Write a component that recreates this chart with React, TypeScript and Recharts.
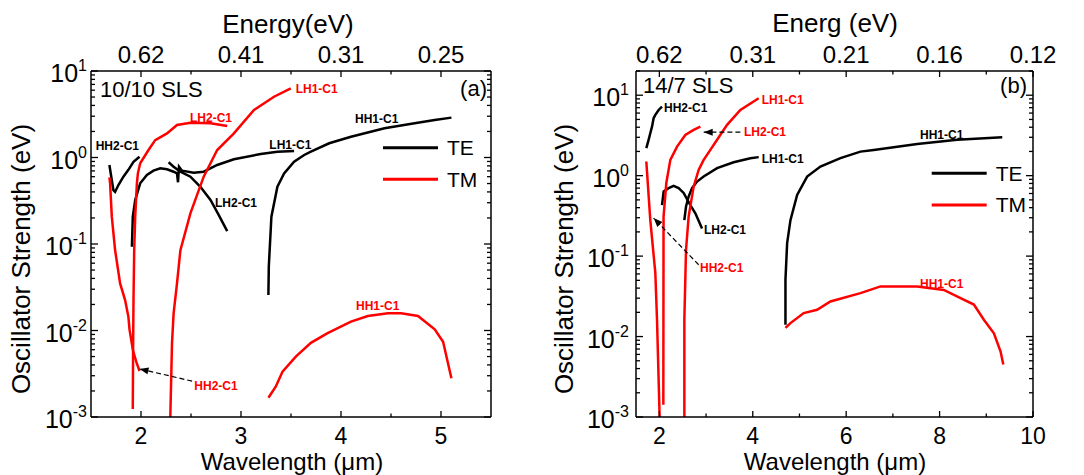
import React from 'react';
import { LineChart, Line, XAxis, YAxis, ReferenceLine, ReferenceDot } from 'recharts';

const FONT = '"Liberation Sans", Arial, sans-serif';
const RED = '#ff0000';

// ---- panel (a) 10/10 SLS : [wavelength (um), oscillator strength (eV)]
const aTeHH2 = [[1.684, 0.82], [1.724, 0.42], [1.741, 0.40], [1.774, 0.48], [1.824, 0.60], [1.874, 0.72], [1.925, 0.89], [1.985, 1.02]];
const aTeLH1 = [[1.909, 0.093], [1.918, 0.207], [1.942, 0.323], [1.992, 0.503], [2.059, 0.628], [2.125, 0.704], [2.193, 0.75], [2.26, 0.731], [2.326, 0.685], [2.36, 0.656], [2.37, 0.517], [2.38, 0.783], [2.41, 0.704], [2.527, 0.667], [2.627, 0.685], [2.762, 0.819], [2.929, 0.953], [3.197, 1.097], [3.364, 1.166], [3.531, 1.19]];
const aTeLH2 = [[2.276, 0.88], [2.326, 0.783], [2.394, 0.685], [2.494, 0.60], [2.594, 0.459], [2.695, 0.323], [2.778, 0.216], [2.862, 0.141]];
const aTeHH1 = [[3.274, 0.0257], [3.278, 0.0547], [3.304, 0.207], [3.364, 0.459], [3.431, 0.656], [3.531, 0.894], [3.632, 1.07], [3.699, 1.17], [3.882, 1.46], [4.10, 1.74], [4.435, 2.18], [4.736, 2.49], [4.937, 2.71], [5.104, 2.89]];
const aTmHH2 = [[1.684, 0.59], [1.691, 0.503], [1.708, 0.207], [1.741, 0.085], [1.791, 0.035], [1.841, 0.0225], [1.874, 0.0144], [1.885, 0.0103], [1.919, 0.00595], [1.952, 0.00436], [1.985, 0.0034]];
const aTmLH2 = [[1.918, 0.00124], [1.921, 0.006], [1.925, 0.0225], [1.932, 0.085], [1.942, 0.207], [1.959, 0.503], [1.969, 0.656], [1.992, 0.857], [2.075, 1.22], [2.142, 1.59], [2.26, 1.90], [2.36, 2.38], [2.494, 2.52], [2.695, 2.49], [2.862, 2.31]];
const aTmLH1 = [[2.293, 0.001], [2.31, 0.0071], [2.326, 0.0158], [2.36, 0.035], [2.394, 0.085], [2.494, 0.226], [2.627, 0.60], [2.762, 1.22], [2.929, 1.90], [3.13, 3.54], [3.33, 5.04], [3.498, 6.3]];
const aTmHH1 = [[3.274, 0.00167], [3.347, 0.00224], [3.415, 0.00334], [3.548, 0.00498], [3.699, 0.0072], [3.866, 0.0093], [4.10, 0.01265], [4.268, 0.0147], [4.469, 0.0158], [4.602, 0.0158], [4.77, 0.0147], [4.937, 0.0103], [5.021, 0.0074], [5.104, 0.0028]];

// ---- panel (b) 14/7 SLS
const bTeHH2 = [[1.721, 2.2], [1.77, 2.79], [1.806, 3.37], [1.843, 4.07], [1.877, 5.18], [1.914, 5.7], [1.985, 6.56], [2.057, 7.2]];
const bTeLH2 = [[2.057, 0.43], [2.092, 0.635], [2.199, 0.70], [2.306, 0.747], [2.413, 0.70], [2.52, 0.61], [2.663, 0.43], [2.771, 0.34], [2.914, 0.22]];
const bTeLH1 = [[2.535, 0.28], [2.571, 0.413], [2.627, 0.55], [2.70, 0.70], [2.807, 0.845], [2.949, 0.975], [3.236, 1.24], [3.591, 1.47], [3.949, 1.65], [4.127, 1.70]];
const bTeHH1 = [[4.70, 0.014], [4.70, 0.051], [4.736, 0.145], [4.807, 0.28], [4.95, 0.577], [5.164, 0.975], [5.449, 1.30], [5.877, 1.65], [6.306, 1.99], [6.591, 2.09], [7.521, 2.48], [8.378, 2.79], [9.342, 3.01]];
const bTmHH2 = [[1.721, 1.50], [1.806, 0.28], [1.914, 0.0615], [1.95, 0.0162], [2.006, 0.001]];
const bTmLH2 = [[2.085, 0.00142], [2.09, 0.31], [2.149, 0.81], [2.235, 1.57], [2.379, 2.30], [2.556, 3.21], [2.734, 3.71], [2.878, 4.07]];
const bTmLH1 = [[2.535, 0.001], [2.535, 0.0162], [2.571, 0.12], [2.627, 0.31], [2.734, 0.73], [2.841, 1.18], [2.949, 1.57], [3.092, 2.09], [3.236, 2.79], [3.45, 4.28], [3.735, 6.56], [4.127, 9.18]];
const bTmHH1 = [[4.70, 0.0128], [4.807, 0.0147], [5.091, 0.0196], [5.378, 0.0215], [5.663, 0.0273], [6.306, 0.0347], [6.735, 0.042], [7.521, 0.042], [8.091, 0.038], [8.449, 0.030], [8.734, 0.025], [8.948, 0.0162], [9.163, 0.011], [9.306, 0.0065], [9.364, 0.0045]];

// axis ticks / labels
const aXTicks = [2, 2.5, 3, 3.5, 4, 4.5, 5];
const aXMajor = [2, 3, 4, 5];
const aTopLabels = ['0.62', '0.41', '0.31', '0.25'];
const bXTicks = [2, 3, 4, 5, 6, 7, 8, 9, 10];
const bXMajor = [2, 4, 6, 8, 10];
const bTopLabels = ['0.62', '0.31', '0.21', '0.16', '0.12'];

// dashed pointers: from label to curve end
const aArrows = [{ from: [2.511, 0.0026], to: [1.985, 0.0036], angle: 193 }];
const bArrows = [
  { from: [3.735, 3.47], to: [2.949, 3.47], angle: 180 },
  { from: [2.841, 0.078], to: [1.877, 0.297], angle: 226 },
];

const pts = (arr: number[][]) => arr.map(([x, y]) => ({ x, y }));

function logTicks(top: number) {
  const out: number[] = [];
  for (let e = -3; e < 1; e++) {
    for (let m = 1; m < 10; m++) out.push(m * Math.pow(10, e));
  }
  out.push(10);
  if (top > 10) out.push(20);
  return out;
}

function XTick(props: any) {
  const { x, y, payload, side, majors, labels } = props;
  const i = majors.indexOf(payload.value);
  const major = i >= 0;
  const dir = side === 'bottom' ? -1 : 1;
  const len = major ? 6 : 3.5;
  const label = major ? (side === 'bottom' ? String(payload.value) : labels[i]) : null;
  return (
    <g>
      <line x1={x} x2={x} y1={y} y2={y + dir * len} stroke="#000" strokeWidth={1.3} />
      {label && (
        <text x={x} y={side === 'bottom' ? y + 27 : y - 8} textAnchor="middle" fontSize={side === 'bottom' ? 23 : 24} fontFamily={FONT} fill="#000">
          {label}
        </text>
      )}
    </g>
  );
}

function YTick(props: any) {
  const { x, y, payload, side, gap } = props;
  const v = payload.value;
  const lg = Math.log10(v);
  const e = Math.round(lg);
  const major = Math.abs(lg - e) < 1e-6;
  const dir = side === 'left' ? 1 : -1;
  const len = major ? 7 : 4;
  return (
    <g>
      <line x1={x} x2={x + dir * len} y1={y} y2={y} stroke="#000" strokeWidth={1.3} />
      {major && side === 'left' && (
        <text x={x - gap} y={y + 11} textAnchor="end" fontSize={25} fontFamily={FONT} fill="#000">
          10<tspan dy={-11} fontSize={16}>{e}</tspan>
        </text>
      )}
    </g>
  );
}

function Panel(props: any) {
  const { width, margin, xDomain, yDomain, xTicks, xMajor, topLabels, gap, te, tm, arrows } = props;
  const yTicks = logTicks(yDomain[1]);
  const axisLine = { stroke: '#000', strokeWidth: 1.5 };
  return (
    <LineChart width={width} height={475} margin={margin}>
      <XAxis type="number" dataKey="x" domain={xDomain} allowDataOverflow ticks={xTicks} interval={0}
        height={20} tickSize={0} tickMargin={0} axisLine={axisLine} tickLine={false}
        tick={(p: any) => <XTick {...p} side="bottom" majors={xMajor} />} />
      <XAxis xAxisId="top" orientation="top" type="number" dataKey="x" domain={xDomain} allowDataOverflow ticks={xTicks} interval={0}
        height={20} tickSize={0} tickMargin={0} axisLine={axisLine} tickLine={false}
        tick={(p: any) => <XTick {...p} side="top" majors={xMajor} labels={topLabels} />} />
      <YAxis type="number" scale="log" domain={yDomain} allowDataOverflow ticks={yTicks} interval={0}
        width={20} tickSize={0} tickMargin={0} axisLine={axisLine} tickLine={false}
        tick={(p: any) => <YTick {...p} side="left" gap={gap} />} />
      <YAxis yAxisId="r" orientation="right" type="number" scale="log" domain={yDomain} allowDataOverflow ticks={yTicks} interval={0}
        width={20} tickSize={0} tickMargin={0} axisLine={axisLine} tickLine={false}
        tick={(p: any) => <YTick {...p} side="right" />} />
      {te.map((d: number[][], i: number) => (
        <Line key={'te' + i} data={pts(d)} dataKey="y" type="linear" stroke="#000" strokeWidth={2.5} dot={false} isAnimationActive={false} />
      ))}
      {tm.map((d: number[][], i: number) => (
        <Line key={'tm' + i} data={pts(d)} dataKey="y" type="linear" stroke={RED} strokeWidth={2.5} dot={false} isAnimationActive={false} />
      ))}
      {arrows.map((a: any, i: number) => (
        <ReferenceLine key={'al' + i} segment={[{ x: a.from[0], y: a.from[1] }, { x: a.to[0], y: a.to[1] }]}
          stroke="#000" strokeWidth={1.2} strokeDasharray="5 3" ifOverflow="visible" />
      ))}
      {arrows.map((a: any, i: number) => (
        <ReferenceDot key={'ah' + i} x={a.to[0]} y={a.to[1]} r={0} ifOverflow="visible"
          shape={(p: any) => (
            <polygon points="0,0 -9,-3.5 -9,3.5" fill="#000" transform={`translate(${p.cx},${p.cy}) rotate(${a.angle})`} />
          )} />
      ))}
    </LineChart>
  );
}

const notes: [number, number, string, string][] = [
  [95.7, 149.5, 'HH2-C1', '#000'],
  [190, 121.5, 'LH2-C1', RED],
  [295.7, 92.5, 'LH1-C1', RED],
  [355, 122.5, 'HH1-C1', '#000'],
  [269.3, 149.3, 'LH1-C1', '#000'],
  [215, 206.7, 'LH2-C1', '#000'],
  [356, 309.5, 'HH1-C1', RED],
  [194.3, 390, 'HH2-C1', RED],
  [664, 111.7, 'HH2-C1', '#000'],
  [744, 136, 'LH2-C1', RED],
  [761.7, 103.5, 'LH1-C1', RED],
  [920, 138.5, 'HH1-C1', '#000'],
  [761.7, 162.7, 'LH1-C1', '#000'],
  [704, 234, 'LH2-C1', '#000'],
  [700, 271.7, 'HH2-C1', RED],
  [920, 287.5, 'HH1-C1', RED],
];

function Overlay() {
  const t = { fontFamily: FONT, fill: '#000' };
  const legend = (x: number, y: number) => (
    <g>
      <line x1={x} x2={x + 55} y1={y} y2={y} stroke="#000" strokeWidth={3} />
      <text x={x + 64} y={y + 7.5} fontSize={21} {...t}>TE</text>
      <line x1={x} x2={x + 55} y1={y + 31.6} y2={y + 31.6} stroke={RED} strokeWidth={3} />
      <text x={x + 64} y={y + 39} fontSize={21} {...t}>TM</text>
    </g>
  );
  return (
    <svg width={1084} height={475} style={{ position: 'absolute', left: 0, top: 0, pointerEvents: 'none' }}>
      <text x={288} y={33} textAnchor="middle" fontSize={26} {...t}>Energy(eV)</text>
      <text x={835} y={32} textAnchor="middle" fontSize={26} {...t}>Energ (eV)</text>
      <text x={292} y={469.5} textAnchor="middle" fontSize={24} {...t}>Wavelength (μm)</text>
      <text x={835} y={469.5} textAnchor="middle" fontSize={24} {...t}>Wavelength (μm)</text>
      <text transform="translate(30,259) rotate(-90)" textAnchor="middle" fontSize={26} {...t}>Oscillator Strength (eV)</text>
      <text transform="translate(573,259) rotate(-90)" textAnchor="middle" fontSize={26} {...t}>Oscillator Strength (eV)</text>
      <text x={100} y={96.7} fontSize={22} {...t}>10/10 SLS</text>
      <text x={487} y={95.5} textAnchor="end" fontSize={22} {...t}>(a)</text>
      <text x={643} y={93} fontSize={22} {...t}>14/7 SLS</text>
      <text x={1027} y={93} textAnchor="end" fontSize={22} {...t}>(b)</text>
      {legend(383, 147.7)}
      {legend(931.7, 173.3)}
      {notes.map(([x, y, s, c], i) => (
        <text key={i} x={x} y={y} fontSize={12} fontWeight="bold" fontFamily={FONT} fill={c}>{s}</text>
      ))}
    </svg>
  );
}

export default function App() {
  return (
    <div style={{ position: 'absolute', left: 0, top: 0, width: 1084, height: 475, background: '#fff' }}>
      <div style={{ position: 'absolute', left: 0, top: 0 }}>
        <Panel width={540} margin={{ top: 51, right: 29, bottom: 38, left: 71 }}
          xDomain={[1.5, 5.5]} yDomain={[0.001, 10]} xTicks={aXTicks} xMajor={aXMajor} topLabels={aTopLabels} gap={4}
          te={[aTeHH2, aTeLH1, aTeLH2, aTeHH1]} tm={[aTmHH2, aTmLH2, aTmLH1, aTmHH1]} arrows={aArrows} />
      </div>
      <div style={{ position: 'absolute', left: 540, top: 0 }}>
        <Panel width={544} margin={{ top: 51, right: 31, bottom: 38, left: 76 }}
          xDomain={[1.5, 10]} yDomain={[0.001, 20]} xTicks={bXTicks} xMajor={bXMajor} topLabels={bTopLabels} gap={7}
          te={[bTeHH2, bTeLH2, bTeLH1, bTeHH1]} tm={[bTmHH2, bTmLH2, bTmLH1, bTmHH1]} arrows={bArrows} />
      </div>
      <Overlay />
    </div>
  );
}
